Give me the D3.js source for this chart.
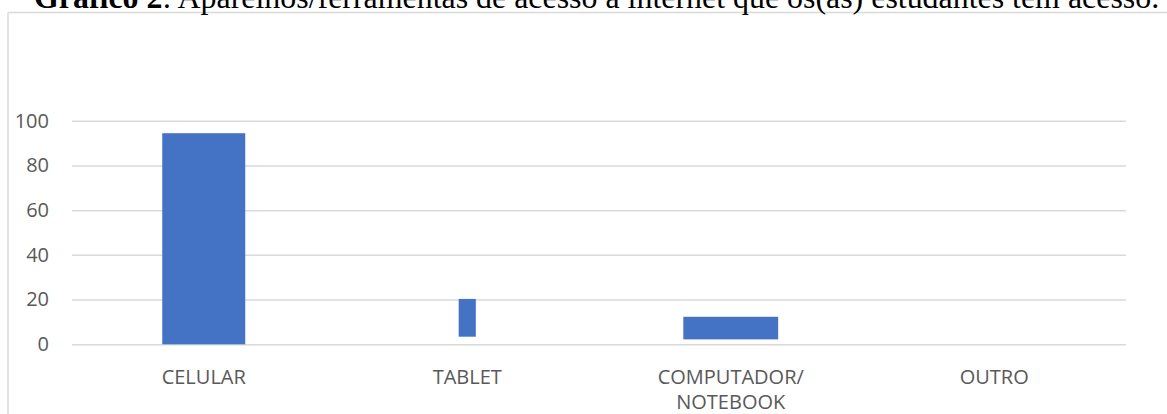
<!DOCTYPE html>
<html>
<head>
<meta charset="utf-8">
<script src="https://cdn.jsdelivr.net/npm/d3@7"></script>
<style>
  body { margin: 0; background: #fff; }
  svg { display: block; }
</style>
</head>
<body>
<svg width="1167" height="414"></svg>
<script>
// dados do gráfico
var categorias = ["CELULAR", "TABLET", "COMPUTADOR/\nNOTEBOOK", "OUTRO"];
var valores = [94.4, 20.3, 12.3, 0];
var bases = [0, 3.4, 2.2, 0];
var ticksY = [0, 20, 40, 60, 80, 100];

var svg = d3.select("svg"),
	width = +svg.attr("width"),
	height = +svg.attr("height");

var azul = "#4472C4",
	cinza = "#595959",
	grade = "#D9D9D9";

// largura de cada barra (fração da banda), como na imagem
var larguraBarra = [0.315, 0.065, 0.36, 0.3];

var x = d3.scaleBand()
	.domain(categorias)
	.range([72, 1126])
	.paddingInner(0)
	.paddingOuter(0);

var y = d3.scaleLinear()
	.domain([0, 100])
	.range([344.3, 120.7]);

// moldura da área do gráfico
svg.append("line")
	.attr("x1", 8).attr("x2", width)
	.attr("y1", 12.5).attr("y2", 12.5)
	.style("stroke", grade).style("stroke-width", 1.5);
svg.append("line")
	.attr("x1", 8).attr("x2", 8)
	.attr("y1", 12.5).attr("y2", height)
	.style("stroke", grade).style("stroke-width", 1.5);

// título
var titulo = svg.append("text")
	.attr("x", 34)
	.attr("y", 7.5)
	.style("font-family", "'Liberation Serif', 'Times New Roman', serif")
	.style("font-size", "30px")
	.style("fill", "#000");
titulo.append("tspan").style("font-weight", "bold").text("Gráfico 2");
titulo.append("tspan").text(": Aparelhos/ferramentas de acesso à internet que os(as) estudantes têm acesso.");
var larg = titulo.node().getComputedTextLength();
titulo.style("font-size", (30 * 1126 / larg) + "px");

// eixo y e linhas de grade
var eixoY = svg.append("g")
	.attr("transform", "translate(72,0)")
	.call(d3.axisLeft(y).tickValues(ticksY).tickSize(-(1126 - 72)).tickPadding(23));
eixoY.select(".domain").remove();
eixoY.selectAll(".tick line")
	.style("stroke", grade)
	.style("stroke-width", 1.5);
eixoY.selectAll(".tick text")
	.style("font-family", "'Open Sans', sans-serif")
	.style("font-size", "20px")
	.style("fill", cinza);

// barras
svg.append("g")
	.selectAll("rect")
	.data(categorias)
	.enter().append("rect")
	.attr("x", function (d, i) {
		return x(d) + x.bandwidth() * (1 - larguraBarra[i]) / 2;
	})
	.attr("width", function (d, i) {
		return x.bandwidth() * larguraBarra[i];
	})
	.attr("y", function (d, i) {
		return y(valores[i]);
	})
	.attr("height", function (d, i) {
		return Math.max(0, y(bases[i]) - y(valores[i]));
	})
	.style("fill", azul);

// rótulos do eixo x
var rotulos = svg.append("g")
	.selectAll("text")
	.data(categorias)
	.enter().append("text")
	.attr("x", function (d) {
		return x(d) + x.bandwidth() / 2;
	})
	.attr("y", 384)
	.attr("text-anchor", "middle")
	.style("font-family", "'Open Sans', sans-serif")
	.style("font-size", "20px")
	.style("fill", cinza);

rotulos.each(function (d) {
	var el = d3.select(this);
	d.split("\n").forEach(function (linha, k) {
		el.append("tspan")
			.attr("x", el.attr("x"))
			.attr("dy", k === 0 ? 0 : 25)
			.text(linha);
	});
});
</script>
</body>
</html>
